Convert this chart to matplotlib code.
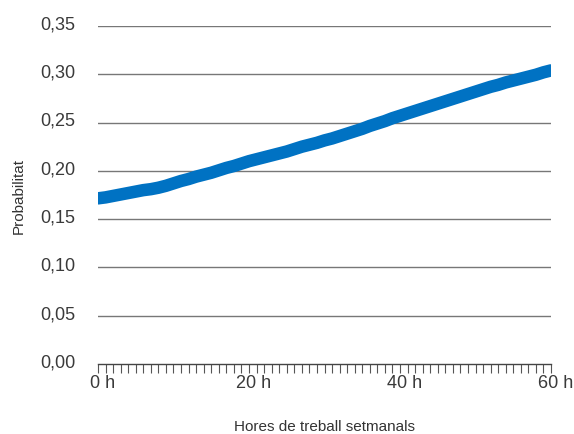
import matplotlib.pyplot as plt
import matplotlib.transforms as mtransforms
from matplotlib.ticker import MultipleLocator, FuncFormatter

plt.rcParams['font.family'] = ['Liberation Sans', 'DejaVu Sans']

hores = list(range(0, 61))
prob = [0.1715, 0.1725, 0.1740, 0.1755, 0.1770, 0.1785, 0.1800, 0.1810, 0.1825, 0.1845,
        0.1870, 0.1895, 0.1915, 0.1940, 0.1960, 0.1980, 0.2005, 0.2030, 0.2050, 0.2075,
        0.2100, 0.2120, 0.2140, 0.2160, 0.2180, 0.2200, 0.2225, 0.2250, 0.2270, 0.2290,
        0.2315, 0.2335, 0.2360, 0.2385, 0.2410, 0.2435, 0.2465, 0.2490, 0.2515, 0.2545,
        0.2570, 0.2595, 0.2620, 0.2645, 0.2670, 0.2695, 0.2720, 0.2745, 0.2770, 0.2795,
        0.2820, 0.2845, 0.2870, 0.2890, 0.2915, 0.2935, 0.2955, 0.2975, 0.2995, 0.3020,
        0.3040]
yticks = [0.0, 0.05, 0.10, 0.15, 0.20, 0.25, 0.30, 0.35]

fig = plt.figure(figsize=(5.74, 4.35), dpi=100)
ax = fig.add_axes([0.1707, 0.161, 0.7893, 0.777])

for v in yticks[1:]:
    ax.axhline(v, color='#777777', lw=1.0, zorder=1)

ax.plot(hores, prob, color='#0072c3', lw=9, solid_capstyle='round', zorder=3)

ax.set_xlim(0, 60)
ax.set_ylim(0, 0.35)
ax.set_yticks(yticks)
ax.yaxis.set_major_formatter(FuncFormatter(lambda v, p: f'{v:.2f}'.replace('.', ',')))
ax.xaxis.set_major_locator(MultipleLocator(20))
ax.xaxis.set_minor_locator(MultipleLocator(1))
ax.xaxis.set_major_formatter(FuncFormatter(lambda v, p: f'{v:.0f} h'))

for s in ['top', 'right', 'left']:
    ax.spines[s].set_visible(False)
ax.spines['bottom'].set_color('#444444')
ax.spines['bottom'].set_linewidth(1.0)

ax.tick_params(axis='y', length=0, pad=16.5, labelsize=13, labelcolor='#3a3a3a')
ax.tick_params(axis='x', which='both', direction='out', length=6.5, width=0.8,
               color='#555555', labelsize=13, labelcolor='#3a3a3a', pad=1)

shift = mtransforms.ScaledTranslation(0, 3 / 72, fig.dpi_scale_trans)
for lab in ax.get_yticklabels():
    lab.set_transform(lab.get_transform() + shift)
shift_x = mtransforms.ScaledTranslation(3 / 72, 0, fig.dpi_scale_trans)
for lab in ax.get_xticklabels():
    lab.set_transform(lab.get_transform() + shift_x)

ax.set_xlabel('Hores de treball setmanals', fontsize=11, color='#333333', labelpad=20)
ax.set_ylabel('Probabilitat', fontsize=11, color='#333333', labelpad=10)

fig.savefig('out.png', dpi=100)
